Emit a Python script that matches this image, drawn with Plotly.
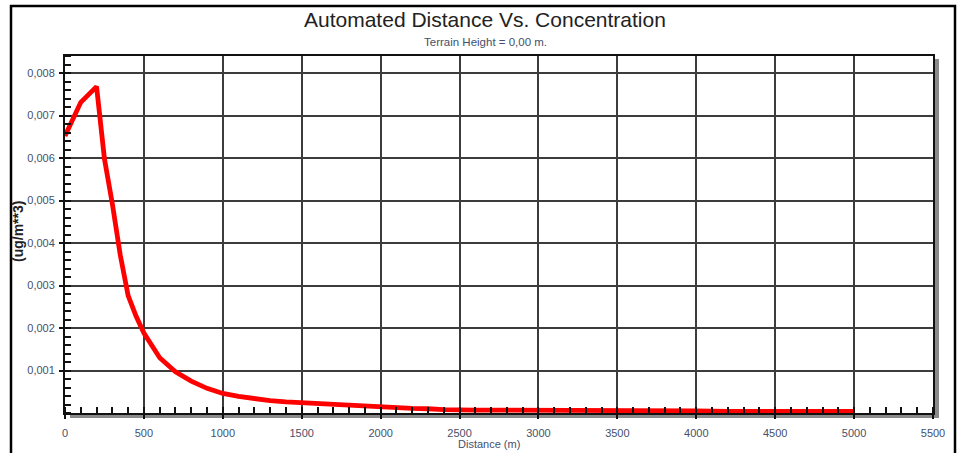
import plotly.graph_objects as go

distance_m = [0, 100, 200, 250, 300, 350, 400, 450, 500, 600, 700, 800, 900,
              1000, 1100, 1200, 1300, 1400, 1500, 1600, 1700, 1800, 1900, 2000,
              2100, 2200, 2300, 2400, 2600, 2800, 3000, 3200, 3400, 3600, 3800,
              4000, 4200, 4400, 4600, 4800, 5000]
concentration = [0.00652, 0.00731, 0.00768, 0.00598, 0.00492, 0.00372, 0.00276,
                 0.00228, 0.00188, 0.00130, 0.00097, 0.00075, 0.00058,
                 0.00046, 0.00039, 0.00033, 0.00029, 0.00026, 0.00024, 0.00021,
                 0.00019, 0.00017, 0.00015, 0.00013,
                 0.00012, 0.00011, 0.00010, 0.00008, 0.00007, 0.00007, 0.00006,
                 0.00006, 0.00005, 0.00005, 0.00005,
                 0.00005, 0.00004, 0.00004, 0.00004, 0.00004, 0.00004]

x_ticks = [0, 500, 1000, 1500, 2000, 2500, 3000, 3500, 4000, 4500, 5000, 5500]
y_ticks = [0.001, 0.002, 0.003, 0.004, 0.005, 0.006, 0.007, 0.008]

title_text = "Automated Distance Vs. Concentration"
subtitle_text = "Terrain Height = 0,00 m."
x_title = "Distance (m)"
y_title = "(ug/m**3)"

W, H = 957, 453
L, R, T, B = 65, 24, 56, 40
pw, ph = W - L - R, H - T - B

def px(xp):
    return (xp - L) / pw

def py(yp):
    return (H - B - yp) / ph

tick_color = "#46506a"
grid_color = "#3c3c3c"

fig = go.Figure()
fig.add_trace(go.Scatter(
    x=distance_m, y=concentration, mode="lines",
    line=dict(color="#ff0000", width=4.8),
    hoverinfo="x+y", showlegend=False,
))

fig.update_layout(
    width=W, height=H,
    margin=dict(l=L, r=R, t=T, b=B, pad=0),
    paper_bgcolor="white", plot_bgcolor="white",
    separators=",.",
    font=dict(family="Liberation Sans, Arial, sans-serif", color="#222"),
    showlegend=False,
)

fig.update_xaxes(
    range=[0, 5500], tickmode="array", tickvals=x_ticks,
    ticktext=[str(v) for v in x_ticks],
    showgrid=True, gridcolor=grid_color, gridwidth=1.5,
    showline=True, linecolor="#111", linewidth=2, mirror=True,
    ticks="outside", ticklen=4, tickwidth=1.5, tickcolor="#111",
    minor=dict(tickmode="linear", tick0=0, dtick=100, ticks="inside",
               ticklen=6, tickwidth=1.5, tickcolor="#111", showgrid=False),
    tickfont=dict(size=11, color=tick_color),
    ticklabelstandoff=5,
    zeroline=False,
)
fig.update_yaxes(
    range=[0, 0.0084], tickmode="array", tickvals=y_ticks,
    ticktext=[f"{v:.3f}".replace(".", ",") for v in y_ticks],
    showgrid=True, gridcolor=grid_color, gridwidth=1.5,
    showline=True, linecolor="#111", linewidth=2, mirror=True,
    ticks="outside", ticklen=4, tickwidth=1.5, tickcolor="#111",
    minor=dict(tickmode="linear", tick0=0, dtick=0.0002, ticks="inside",
               ticklen=6, tickwidth=1.5, tickcolor="#111", showgrid=False),
    tickfont=dict(size=11, color=tick_color),
    ticklabelstandoff=2,
    zeroline=False,
)

shapes = []
# drop shadow of plot area (right and bottom)
shapes.append(dict(type="rect", xref="paper", yref="paper",
                   x0=1.0, x1=px(939), y0=py(418), y1=py(59),
                   fillcolor="#8a8a8a", line=dict(width=0), layer="below"))
shapes.append(dict(type="rect", xref="paper", yref="paper",
                   x0=px(70), x1=px(939), y0=py(418), y1=0.0,
                   fillcolor="#8a8a8a", line=dict(width=0), layer="below"))
# outer frame
shapes.append(dict(type="rect", xref="paper", yref="paper",
                   x0=px(11), x1=px(955), y0=py(470), y1=py(6),
                   line=dict(color="black", width=2.5), fillcolor="rgba(0,0,0,0)"))
fig.update_layout(shapes=shapes)

annotations = [
    dict(text=title_text, xref="paper", yref="paper", x=px(485), y=py(20),
         xanchor="center", yanchor="middle", showarrow=False,
         font=dict(size=21, color="#222")),
    dict(text=subtitle_text, xref="paper", yref="paper", x=px(485), y=py(42),
         xanchor="center", yanchor="middle", showarrow=False,
         font=dict(size=11.5, color="#46506a")),
    dict(text=x_title, xref="paper", yref="paper", x=px(489), y=py(444),
         xanchor="center", yanchor="middle", showarrow=False,
         font=dict(size=11, color=tick_color)),
    dict(text=f"<b>{y_title}</b>", xref="paper", yref="paper", x=px(18), y=py(232),
         xanchor="center", yanchor="middle", showarrow=False, textangle=-90,
         font=dict(size=14, color="#222")),
]
fig.update_layout(annotations=annotations)

fig.write_html(
    "out.html",
    config={"displayModeBar": False},
    post_script="document.body.style.margin='0';document.body.style.padding='0';"
                "document.body.style.overflow='hidden';",
)
